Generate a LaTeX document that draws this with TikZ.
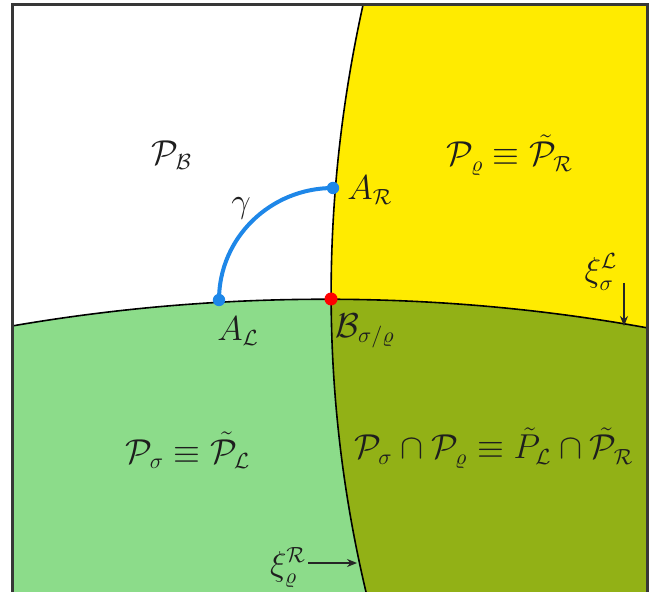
\documentclass[tikz,border=0pt]{standalone}
\usepackage{amsmath,amssymb}
\usetikzlibrary{arrows.meta}
\definecolor{yel}{RGB}{255,235,0}
\definecolor{lgreen}{RGB}{140,220,138}
\definecolor{olive}{RGB}{146,177,22}
\definecolor{gblue}{RGB}{30,135,232}
\definecolor{frm}{RGB}{55,55,55}
\definecolor{txt}{RGB}{30,30,30}
\tikzset{
  lbl/.style={text=txt,font=\fontsize{16}{19}\selectfont,inner sep=0pt},
  bnd/.style={draw=black,line width=0.8pt},
  ptr/.style={draw=black!85,line width=0.6pt,-{Stealth[length=5pt,width=4pt]}},
  dotb/.style={fill=gblue,circle,inner sep=0pt,minimum size=6.2pt},
  dotr/.style={fill=red,circle,inner sep=0pt,minimum size=6.5pt}
}
\begin{document}
\begin{tikzpicture}[x=0.5pt,y=-0.5pt]
\useasboundingbox (0,0) rectangle (668,592);
\begin{scope}
  \clip (12,5) rectangle (647,600);
  \fill[white] (12,5) rectangle (647,600);
  % above H
  \begin{scope}
    \clip (0,-10) -- (0,326) -- (12,326) .. controls (220,290) and (440,290) .. (648,328) -- (680,328) -- (680,-10) -- cycle;
    \fill[yel] (363,5) .. controls (320,200) and (320,398) .. (366,592) -- (366,620) -- (680,620) -- (680,-10) -- (363,-10) -- cycle;
  \end{scope}
  % below H
  \begin{scope}
    \clip (0,620) -- (0,326) -- (12,326) .. controls (220,290) and (440,290) .. (648,328) -- (680,328) -- (680,620) -- cycle;
    \fill[lgreen] (0,0) rectangle (680,620);
    \fill[olive] (363,5) .. controls (320,200) and (320,398) .. (366,592) -- (366,620) -- (680,620) -- (680,-10) -- (363,-10) -- cycle;
  \end{scope}
  \draw[bnd] (12,326) .. controls (220,290) and (440,290) .. (648,328);
  \draw[bnd] (363,5) .. controls (320,200) and (320,398) .. (366,592) -- (366,600);
\end{scope}
% frame
\draw[frm,line width=1.5pt] (12,600) -- (12,5) -- (647,5) -- (647,600);
% points
\coordinate (AL) at (219,300);
\coordinate (AR) at (333,188);
\coordinate (B) at (331,299);
\draw[gblue,line width=2pt] (AL) .. controls (219,237.6) and (270.6,188) .. (AR);
\node[dotb] (ALd) at (AL) {};
\node[dotb] (ARd) at (AR) {};
\node[dotr] (Bd) at (B) {};
% labels
\node[lbl] (PB) at (172,155) {$\mathcal{P}_{\mathcal{B}}$};
\node[lbl] (Prho) at (510,155) {$\mathcal{P}_{\varrho}\equiv\tilde{\mathcal{P}}_{\mathcal{R}}$};
\node[lbl] (gam) at (241,208) {$\gamma$};
\node[lbl,anchor=west] (ARl) at (347,190) {$A_{\mathcal{R}}$};
\node[lbl] (xiL) at (601,272) {$\xi_{\sigma}^{\mathcal{L}}$};
\node[lbl] (ALl) at (238,331) {$A_{\mathcal{L}}$};
\node[lbl,anchor=west] (Bl) at (335,331) {$\mathcal{B}_{\sigma/\varrho}$};
\node[lbl] (Psig) at (188,450) {$\mathcal{P}_{\sigma}\equiv\tilde{\mathcal{P}}_{\mathcal{L}}$};
\node[lbl] (Pcap) at (494,448) {$\mathcal{P}_{\sigma}\cap\mathcal{P}_{\varrho}\equiv\tilde{P}_{\mathcal{L}}\cap\tilde{\mathcal{P}}_{\mathcal{R}}$};
\node[lbl] (xiR) at (288,568) {$\xi_{\varrho}^{\mathcal{R}}$};
\coordinate (tipL) at (624,326);
\coordinate (tipR) at (357,563);
\draw[ptr] (624,283) -- (tipL);
\draw[ptr] (xiR.east |- 0,563) ++(2,0) -- (tipR);
\end{tikzpicture}
\end{document}
